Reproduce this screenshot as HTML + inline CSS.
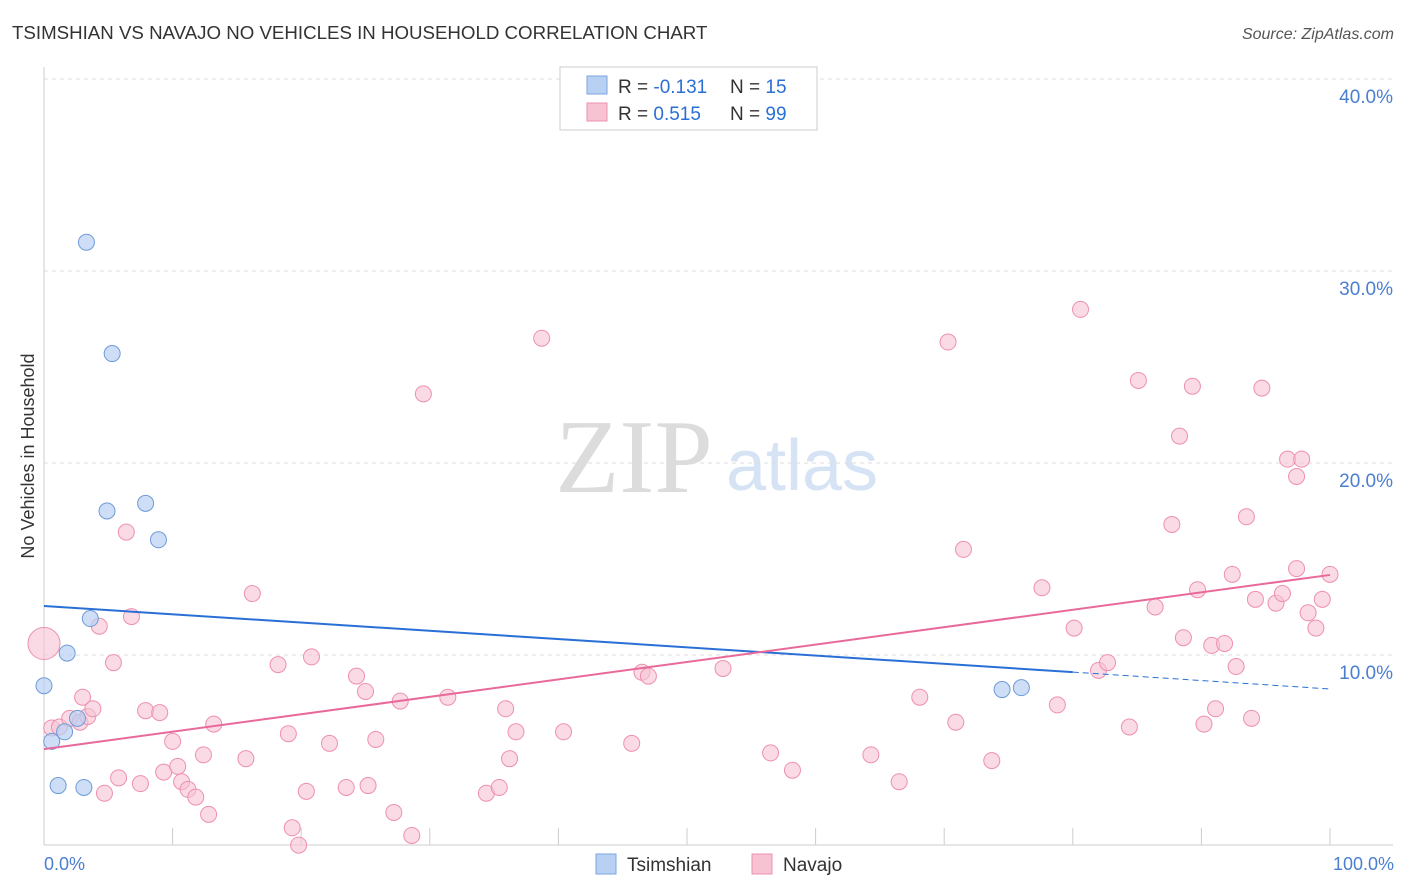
<!DOCTYPE html>
<html><head><meta charset="utf-8"><style>
body{margin:0;background:#fff;font-family:"Liberation Sans",sans-serif}
#wrap{position:relative;width:1406px;height:892px;overflow:hidden}
</style></head><body>
<div id="wrap">
<svg id="svg" width="1406" height="892" xmlns="http://www.w3.org/2000/svg">
<text x="12" y="39" font-size="18.7" fill="#333">TSIMSHIAN VS NAVAJO NO VEHICLES IN HOUSEHOLD CORRELATION CHART</text>
<text x="1394" y="39" font-size="16" fill="#555" font-style="italic" text-anchor="end">Source: ZipAtlas.com</text>
<text x="634" y="492" font-size="105" fill="#dcdcdc" font-family="Liberation Serif,serif" text-anchor="middle">ZIP</text>
<text x="802" y="490" font-size="72" fill="#d5e3f5" text-anchor="middle">atlas</text>
<text transform="translate(34,456) rotate(-90)" font-size="18" fill="#333" text-anchor="middle">No Vehicles in Household</text>
<g id="grid"></g><g id="lines"></g><g id="pts"></g>
<g>
<rect x="560" y="67" width="257" height="63" fill="#fff" stroke="#ccc"/>
<rect x="587" y="76" width="20" height="18" fill="#b8d0f2" stroke="#7aa6e0"/>
<rect x="587" y="103" width="20" height="18" fill="#f7c3d3" stroke="#ee90ad"/>
<text x="618" y="93" font-size="19" fill="#333">R = <tspan fill="#2a6fd6">-0.131</tspan></text>
<text x="730" y="93" font-size="19" fill="#333">N = <tspan fill="#2a6fd6"> 15</tspan></text>
<text x="618" y="120" font-size="19" fill="#333">R = <tspan fill="#2a6fd6"> 0.515</tspan></text>
<text x="730" y="120" font-size="19" fill="#333">N = <tspan fill="#2a6fd6">99</tspan></text>
</g>
<g>
<rect x="596" y="854" width="20" height="20" fill="#b8d0f2" stroke="#7aa6e0"/>
<text x="627" y="871" font-size="19" fill="#333">Tsimshian</text>
<rect x="752" y="854" width="20" height="20" fill="#f7c3d3" stroke="#ee90ad"/>
<text x="783" y="871" font-size="19" fill="#333">Navajo</text>
</g>
<text x="44" y="870" font-size="18" fill="#4a7fd0">0.0%</text>
<text x="1394" y="870" font-size="18" fill="#4a7fd0" text-anchor="end">100.0%</text>
</svg></div>
<script>
const yTicks=[10,20,30,40];
const yTickLabels=["10.0%","20.0%","30.0%","40.0%"];
const xTicks=[10,20,30,40,50,60,70,80,90,100];
const blueX=[3.3,5.3,4.9,7.9,8.9,3.6,1.8,0,0.6,1.6,2.6,1.1,3.1,74.5,76.0];
const blueY=[31.5,25.7,17.5,17.9,16.0,11.9,10.1,8.4,5.5,6.0,6.7,3.2,3.1,8.2,8.3];
const pinkX=[0,0.6,1.2,2.0,2.8,3.0,3.4,3.8,4.3,4.7,5.4,5.8,6.4,6.8,7.5,7.9,9.0,9.3,10.0,10.4,10.7,11.2,11.8,12.4,12.8,13.2,15.7,16.2,18.2,19.0,19.3,19.8,20.4,20.8,22.2,23.5,24.3,25.0,25.2,25.8,27.2,27.7,28.6,29.5,31.4,34.4,35.4,35.9,36.2,36.7,38.7,40.4,45.7,46.5,47.0,52.8,56.5,58.2,64.3,66.5,68.1,70.3,70.9,71.5,73.7,77.6,78.8,80.1,80.6,82.0,82.7,84.4,85.1,86.4,87.7,88.3,88.6,89.3,89.7,90.2,90.8,91.1,91.8,92.4,92.7,93.5,93.9,94.2,94.7,95.8,96.3,96.7,97.4,97.8,98.3,98.9,99.4,100,97.4];
const pinkY=[10.6,6.2,6.25,6.7,6.5,7.8,6.8,7.2,11.5,2.8,9.6,3.6,16.4,12.0,3.3,7.1,7.0,3.9,5.5,4.2,3.4,3.0,2.6,4.8,1.7,6.4,4.6,13.2,9.5,5.9,1.0,0.1,2.9,9.9,5.4,3.1,8.9,8.1,3.2,5.6,1.8,7.6,0.6,23.6,7.8,2.8,3.1,7.2,4.6,6.0,26.5,6.0,5.4,9.1,8.9,9.3,4.9,4.0,4.8,3.4,7.8,26.3,6.5,15.5,4.5,13.5,7.4,11.4,28.0,9.2,9.6,6.25,24.3,12.5,16.8,21.4,10.9,24.0,13.4,6.4,10.5,7.2,10.6,14.2,9.4,17.2,6.7,12.9,23.9,12.7,13.2,20.2,14.5,20.2,12.2,11.4,12.9,14.2,19.3];
const blueLine=[12.55,9.11,8.23];
const pinkLine=[5.1,14.17];
const X=v=>44+v*12.86, Y=v=>847-v*19.2;
const NS="http://www.w3.org/2000/svg";
function mk(tag,attrs,parent){const e=document.createElementNS(NS,tag);for(const k in attrs)e.setAttribute(k,attrs[k]);document.getElementById(parent).appendChild(e);return e;}
yTicks.forEach((t,i)=>{
 const l=mk('line',{x1:44,x2:1393,y1:Y(t),y2:Y(t),stroke:'#ddd','stroke-dasharray':'4,4'},'grid');
 
 
 const tx=mk('text',{x:1393,y:Y(t)+24,'font-size':19,fill:'#4a7fd0','text-anchor':'end'},'grid');
 tx.textContent=yTickLabels[i];
 
 
});
const ax=mk('line',{x1:44,x2:44,y1:67,y2:845,stroke:'#ccc'},'grid');


const bx=mk('line',{x1:44,x2:1393,y1:845,y2:845,stroke:'#ccc'},'grid');


xTicks.forEach(t=>{
 const l=mk('line',{x1:X(t),x2:X(t),y1:828,y2:845,stroke:'#ccc'},'grid');
 
 
});
pinkX.forEach((x,i)=>{
 const c=mk('circle',{cx:X(x),cy:Y(pinkY[i]),r:i==0?16:8,fill:'#f7c3d3','fill-opacity':0.6,stroke:'#ee90ad','stroke-width':1},'pts');
 
 
});
blueX.forEach((x,i)=>{
 const c=mk('circle',{cx:X(x),cy:Y(blueY[i]),r:8,fill:'#b8d0f2','fill-opacity':0.7,stroke:'#6f9bd8','stroke-width':1},'pts');
 
 
});
const b1=mk('line',{x1:X(0),y1:Y(blueLine[0]),x2:X(80),y2:Y(blueLine[1]),stroke:'#2a6fd6','stroke-width':2},'pts');


const b2=mk('line',{x1:X(80),y1:Y(blueLine[1]),x2:X(100),y2:Y(blueLine[2]),stroke:'#2a6fd6','stroke-width':1,'stroke-dasharray':'6,4'},'pts');


const p1=mk('line',{x1:X(0),y1:Y(pinkLine[0]),x2:X(100),y2:Y(pinkLine[1]),stroke:'#e8699a','stroke-width':2},'pts');


</script>
</body></html>
